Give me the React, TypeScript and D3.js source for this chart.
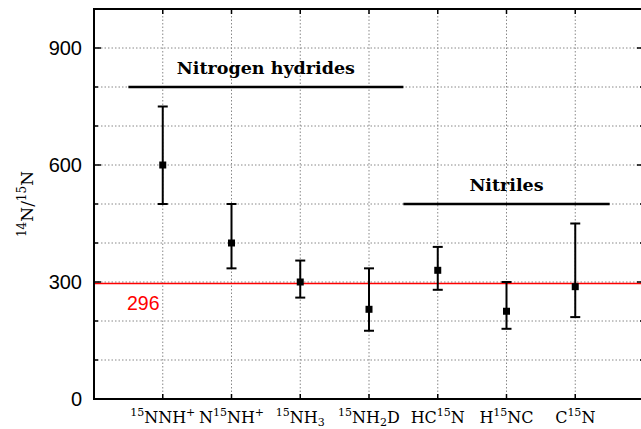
import React from "react";
import * as d3 from "d3";

type Seg = [string, "n" | "sup" | "sub"];

const categories: Seg[][] = [
  [["15", "sup"], ["NNH", "n"], ["+", "sup"]],
  [["N", "n"], ["15", "sup"], ["NH", "n"], ["+", "sup"]],
  [["15", "sup"], ["NH", "n"], ["3", "sub"]],
  [["15", "sup"], ["NH", "n"], ["2", "sub"], ["D", "n"]],
  [["HC", "n"], ["15", "sup"], ["N", "n"]],
  [["H", "n"], ["15", "sup"], ["NC", "n"]],
  [["C", "n"], ["15", "sup"], ["N", "n"]],
];
const values = [600, 400, 300, 230, 330, 225, 288];
const lows = [500, 335, 260, 175, 280, 180, 210];
const highs = [750, 500, 355, 335, 390, 300, 450];

const yTicks = [0, 300, 600, 900];
const yGrid = [100, 200, 300, 400, 500, 600, 700, 800, 900];
const refValue = 296;

const groups = [
  { name: "Nitrogen hydrides", from: 0.5, to: 4.5, level: 800 },
  { name: "Nitriles", from: 4.5, to: 7.5, level: 500 },
];

const W = 641;
const H = 429;
const left = 94;
const right = 644;
const top = 9;
const bottom = 399;

const x = d3.scaleLinear().domain([0, 8]).range([left, right]);
const y = d3.scaleLinear().domain([0, 1000]).range([bottom, top]);

function Label({ segs, size, supSize }: { segs: Seg[]; size: number; supSize: number }) {
  let cur = 0;
  const out: React.ReactNode[] = [];
  segs.forEach((s, i) => {
    const target = s[1] === "sup" ? -7 : s[1] === "sub" ? 3 : 0;
    const dy = target - cur;
    cur = target;
    out.push(
      <tspan key={i} dy={dy} fontSize={s[1] === "n" ? size : supSize}>
        {s[0]}
      </tspan>
    );
  });
  return <>{out}</>;
}

export default function App() {
  const serif = "'DejaVu Serif', serif";
  const sans = "'Liberation Sans', Arial, sans-serif";
  const cap = 5;
  return (
    <svg
      width={W}
      height={H}
      style={{ position: "absolute", left: 0, top: 0, background: "#fff" }}
    >
      <rect x={0} y={0} width={W} height={H} fill="#fff" />
      {/* grid */}
      {yGrid.map((v) => (
        <line
          key={"gy" + v}
          x1={left}
          x2={right}
          y1={y(v)}
          y2={y(v)}
          stroke="#888"
          strokeWidth={1}
          strokeDasharray="1.5,2"
        />
      ))}
      {d3.range(1, 8).map((i) => (
        <line
          key={"gx" + i}
          x1={x(i)}
          x2={x(i)}
          y1={top}
          y2={bottom}
          stroke="#888"
          strokeWidth={1}
          strokeDasharray="1.5,2"
        />
      ))}
      {/* reference line */}
      <line x1={left} x2={right} y1={y(refValue)} y2={y(refValue)} stroke="#ff0000" strokeWidth={1.5} />
      <text x={127} y={y(refValue) + 26} fill="#ff0000" fontFamily={sans} fontSize={19.5}>
        {refValue}
      </text>
      {/* ticks */}
      {yGrid.map((v) => {
        const len = yTicks.includes(v) ? 7 : 4;
        return (
          <g key={"t" + v}>
            <line x1={left} x2={left + len} y1={y(v)} y2={y(v)} stroke="#000" strokeWidth={1.5} />
            <line x1={right - len} x2={right} y1={y(v)} y2={y(v)} stroke="#000" strokeWidth={1.5} />
          </g>
        );
      })}
      {d3.range(1, 8).map((i) => (
        <g key={"tx" + i}>
          <line x1={x(i)} x2={x(i)} y1={bottom} y2={bottom - 5} stroke="#000" strokeWidth={1.5} />
          <line x1={x(i)} x2={x(i)} y1={top} y2={top + 5} stroke="#000" strokeWidth={1.5} />
        </g>
      ))}
      {/* axes */}
      <line x1={left} x2={left} y1={top - 1} y2={bottom + 1} stroke="#000" strokeWidth={2} />
      <line x1={left - 1} x2={right} y1={bottom} y2={bottom} stroke="#000" strokeWidth={2} />
      <line x1={left - 1} x2={right} y1={top} y2={top} stroke="#000" strokeWidth={2} />
      <line x1={right} x2={right} y1={top} y2={bottom} stroke="#000" strokeWidth={2} />
      {yTicks.map((v) => (
        <text
          key={"yl" + v}
          x={left - 12}
          y={y(v) + 7}
          textAnchor="end"
          fontFamily={sans}
          fontSize={20}
          fill="#000"
        >
          {v}
        </text>
      ))}
      {/* y axis title */}
      <text
        transform={`translate(33,204) rotate(-90)`}
        textAnchor="middle"
        fontFamily={serif}
        fontSize={17}
        fill="#000"
      >
        <Label
          segs={[
            ["14", "sup"],
            ["N/", "n"],
            ["15", "sup"],
            ["N", "n"],
          ]}
          size={17}
          supSize={12}
        />
      </text>
      {/* category labels */}
      {categories.map((segs, i) => (
        <text
          key={"c" + i}
          x={x(i + 1)}
          y={423}
          textAnchor="middle"
          fontFamily={serif}
          fontSize={16}
          fill="#000"
        >
          <Label segs={segs} size={16} supSize={11} />
        </text>
      ))}
      {/* groups */}
      {groups.map((g) => (
        <g key={g.name}>
          <line x1={x(g.from)} x2={x(g.to)} y1={y(g.level)} y2={y(g.level)} stroke="#000" strokeWidth={2.5} />
          <text
            x={x((g.from + g.to) / 2)}
            y={y(g.level) - 13}
            textAnchor="middle"
            fontFamily={serif}
            fontWeight="bold"
            fontSize={17.5}
            fill="#000"
          >
            {g.name}
          </text>
        </g>
      ))}
      {/* error bars */}
      {values.map((v, i) => {
        const cx = x(i + 1);
        return (
          <g key={"e" + i}>
            <line x1={cx} x2={cx} y1={y(lows[i])} y2={y(highs[i])} stroke="#000" strokeWidth={2} />
            <line x1={cx - cap} x2={cx + cap} y1={y(lows[i])} y2={y(lows[i])} stroke="#000" strokeWidth={2} />
            <line x1={cx - cap} x2={cx + cap} y1={y(highs[i])} y2={y(highs[i])} stroke="#000" strokeWidth={2} />
            <rect x={cx - 3.5} y={y(v) - 3.5} width={7} height={7} fill="#000" />
          </g>
        );
      })}
    </svg>
  );
}
